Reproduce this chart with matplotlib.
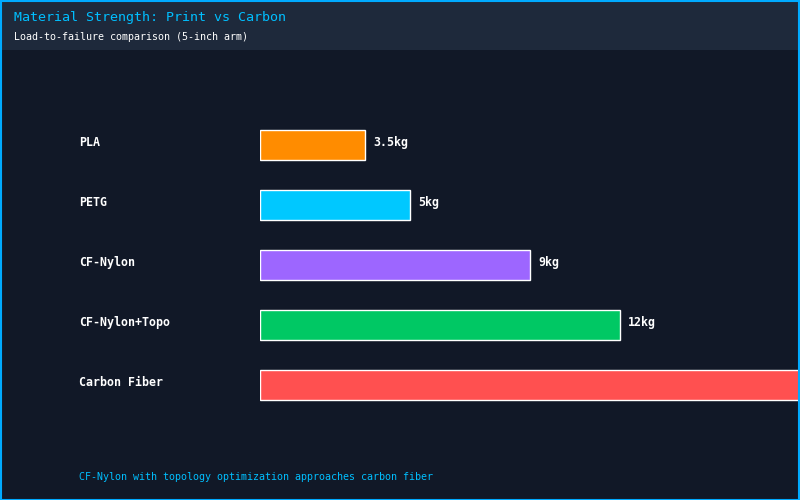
import matplotlib
matplotlib.use("Agg")
import matplotlib.pyplot as plt
from matplotlib.patches import Rectangle
import matplotlib.transforms as mtransforms

materials = ["PLA", "PETG", "CF-Nylon", "CF-Nylon+Topo", "Carbon Fiber"]
loads = [3.5, 5, 9, 12, 20]
value_labels = ["3.5kg", "5kg", "9kg", "12kg", "20kg"]
colors = ["#ff8c00", "#00c8ff", "#9d66ff", "#00c864", "#ff5050"]

BG = "#111827"
HEADER = "#1e293b"
CYAN = "#00bfff"
FONT = "DejaVu Sans Mono"

fig = plt.figure(figsize=(8, 5), dpi=100, facecolor=BG)

# header band
fig.patches.append(Rectangle((0, 0.9), 1, 0.1, transform=fig.transFigure,
                             facecolor=HEADER, edgecolor="none", zorder=0))
# border
fig.patches.append(Rectangle((0.0008, 0.001), 0.9984, 0.998, transform=fig.transFigure,
                             facecolor="none", edgecolor="#00aaff", linewidth=1.5, zorder=5))

fig.text(14/800, 1 - 18/500, "Material Strength: Print vs Carbon", color=CYAN,
         fontsize=9.6, family=FONT, va="center", ha="left")
fig.text(14/800, 1 - 37/500, "Load-to-failure comparison (5-inch arm)", color="white",
         fontsize=7.2, family=FONT, va="center", ha="left")
fig.text(79/800, 1 - 477/500, "CF-Nylon with topology optimization approaches carbon fiber",
         color=CYAN, fontsize=7.2, family=FONT, va="center", ha="left")

ax = fig.add_axes([260/800, 85/500, 540/800, 300/500])
ax.set_facecolor("none")
ax.barh(range(len(materials)), loads, height=0.5, color=colors,
        edgecolor="white", linewidth=1.0)
xmax = 18
ax.set_xlim(0, xmax)
ax.set_ylim(4.5, -0.5)
ax.axis("off")

up = mtransforms.ScaledTranslation(0, 2.5/100, fig.dpi_scale_trans)
trans = mtransforms.blended_transform_factory(fig.transFigure, ax.transData) + up
for i, (m, v, lab) in enumerate(zip(materials, loads, value_labels)):
    ax.text(79/800, i, m, transform=trans, color="white", fontsize=8.4,
            fontweight="bold", family=FONT, va="center", ha="left")
    if v < xmax - 1:  # labels of bars running past the edge are out of view
        ax.text(v, i, lab, color="white", fontsize=8.4, fontweight="bold",
                family=FONT, va="center", ha="left",
                transform=ax.transData + mtransforms.ScaledTranslation(8/100, 2.5/100, fig.dpi_scale_trans))

fig.savefig("out.png", dpi=100, facecolor=BG)
